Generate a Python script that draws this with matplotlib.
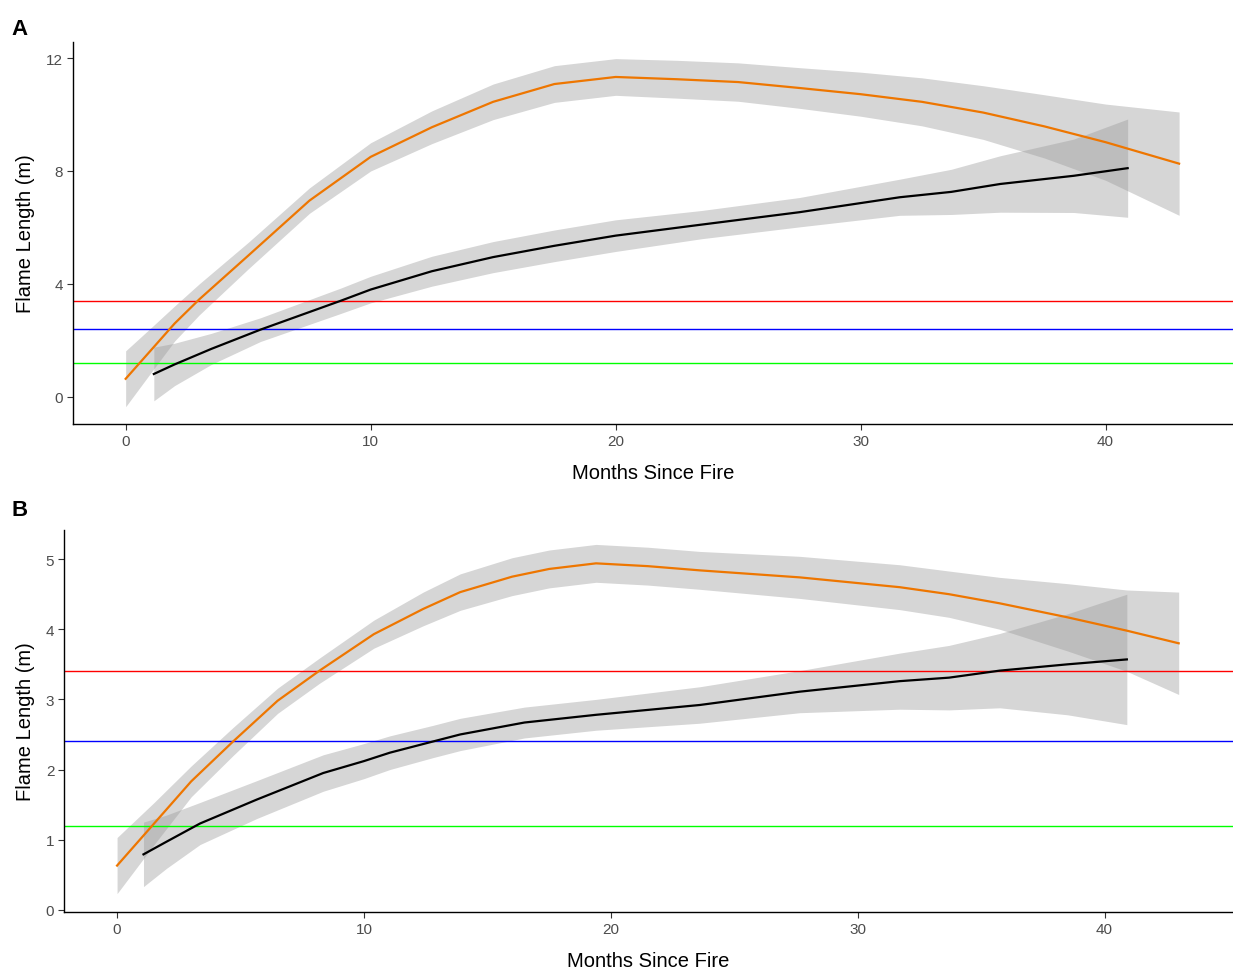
import matplotlib
matplotlib.use("Agg")
import matplotlib.pyplot as plt

plt.rcParams['font.family'] = ['Liberation Sans', 'DejaVu Sans']

# ---------------- Panel A data ----------------
a_orange_x = [0, 1, 2, 3, 5, 7.5, 10, 12.5, 15, 17.5, 20, 22.5, 25, 27.5, 30, 32.5, 35, 37.5, 40, 43]
a_orange_y = [0.64, 1.62, 2.6, 3.45, 5.0, 6.95, 8.5, 9.55, 10.45, 11.08, 11.33, 11.25, 11.15, 10.94, 10.72, 10.45, 10.07, 9.58, 9.02, 8.26]
a_orange_se = [0.99, 0.8, 0.62, 0.55, 0.47, 0.45, 0.5, 0.58, 0.63, 0.65, 0.65, 0.67, 0.68, 0.72, 0.78, 0.85, 0.95, 1.12, 1.35, 1.83]

a_black_x = [1.15, 2, 3.5, 5.5, 8.8, 10, 12.5, 15, 17.5, 20, 23.5, 27.5, 31.6, 33.7, 35.7, 38.7, 40.9]
a_black_y = [0.81, 1.15, 1.70, 2.38, 3.41, 3.8, 4.45, 4.95, 5.35, 5.71, 6.1, 6.54, 7.07, 7.26, 7.54, 7.83, 8.1]
a_black_se = [0.95, 0.75, 0.55, 0.42, 0.45, 0.47, 0.53, 0.55, 0.56, 0.56, 0.5, 0.52, 0.64, 0.8, 1.0, 1.3, 1.74]

# ---------------- Panel B data ----------------
b_orange_x = [0, 1.5, 3, 4.7, 6.5, 8.2, 10.4, 12.4, 13.9, 16, 17.5, 19.4, 21.5, 23.6, 27.65, 31.7, 33.7, 35.75, 38.5, 40.9, 43]
b_orange_y = [0.63, 1.23, 1.83, 2.40, 2.98, 3.41, 3.93, 4.29, 4.53, 4.75, 4.86, 4.94, 4.9, 4.84, 4.74, 4.6, 4.5, 4.37, 4.17, 3.98, 3.80]
b_orange_se = [0.4, 0.3, 0.22, 0.2, 0.18, 0.18, 0.2, 0.24, 0.26, 0.27, 0.27, 0.27, 0.27, 0.27, 0.3, 0.32, 0.33, 0.37, 0.48, 0.58, 0.73]

b_black_x = [1.07, 2, 3.36, 5.65, 8.35, 10, 11.05, 12.8, 13.9, 16.5, 19.4, 23.6, 27.65, 31.7, 33.7, 35.75, 38.5, 40.9]
b_black_y = [0.79, 0.97, 1.23, 1.57, 1.95, 2.12, 2.24, 2.40, 2.50, 2.67, 2.78, 2.92, 3.11, 3.26, 3.31, 3.41, 3.5, 3.57]
b_black_se = [0.46, 0.38, 0.3, 0.27, 0.26, 0.25, 0.24, 0.23, 0.23, 0.22, 0.22, 0.26, 0.3, 0.4, 0.46, 0.53, 0.72, 0.93]

hline_vals = [3.4, 2.4, 1.2]
hline_cols = ['#FF0000', '#0000FF', '#00FF00']

a_yticks = [0, 4, 8, 12]
b_yticks = [0, 1, 2, 3, 4, 5]
xticks = [0, 10, 20, 30, 40]

ORANGE = '#EE7600'
BAND = '#999999'
TICKCOL = '#4D4D4D'

fig = plt.figure(figsize=(12.33, 9.70), dpi=100)
axA = fig.add_axes([0.0592, 0.5619, 0.9408, 0.3941])
axB = fig.add_axes([0.0519, 0.0584, 0.9481, 0.3945])


def draw(ax, ox, oy, ose, bx, by, bse, ylim, yticks):
    lo = [y - s for y, s in zip(oy, ose)]
    hi = [y + s for y, s in zip(oy, ose)]
    ax.fill_between(ox, lo, hi, color=BAND, alpha=0.4, lw=0, zorder=1)
    lo = [y - s for y, s in zip(by, bse)]
    hi = [y + s for y, s in zip(by, bse)]
    ax.fill_between(bx, lo, hi, color=BAND, alpha=0.4, lw=0, zorder=1)
    for v, c in zip(hline_vals, hline_cols):
        ax.axhline(v, color=c, lw=1.0, zorder=2)
    ax.plot(ox, oy, color=ORANGE, lw=1.6, zorder=3)
    ax.plot(bx, by, color='black', lw=1.6, zorder=3)
    ax.set_xlim(-2.15, 45.2)
    ax.set_ylim(*ylim)
    ax.set_xticks(xticks)
    ax.set_yticks(yticks)
    for s in ['top', 'right']:
        ax.spines[s].set_visible(False)
    for s in ['left', 'bottom']:
        ax.spines[s].set_color('black')
        ax.spines[s].set_linewidth(1.0)
    ax.tick_params(axis='both', length=4, width=0.8, color='#333333',
                   labelcolor=TICKCOL, labelsize=11, pad=3)
    ax.set_xlabel('Months Since Fire', fontsize=14.5, color='black', labelpad=11)
    ax.set_ylabel('Flame Length (m)', fontsize=14.5, color='black', labelpad=8)


draw(axA, a_orange_x, a_orange_y, a_orange_se, a_black_x, a_black_y, a_black_se,
     (-0.96, 12.58), a_yticks)
draw(axB, b_orange_x, b_orange_y, b_orange_se, b_black_x, b_black_y, b_black_se,
     (-0.037, 5.42), b_yticks)

fig.text(0.009, 0.97, 'A', fontsize=16, fontweight='bold', va='center', ha='left')
fig.text(0.009, 0.474, 'B', fontsize=16, fontweight='bold', va='center', ha='left')

fig.savefig('out.png', dpi=100)
